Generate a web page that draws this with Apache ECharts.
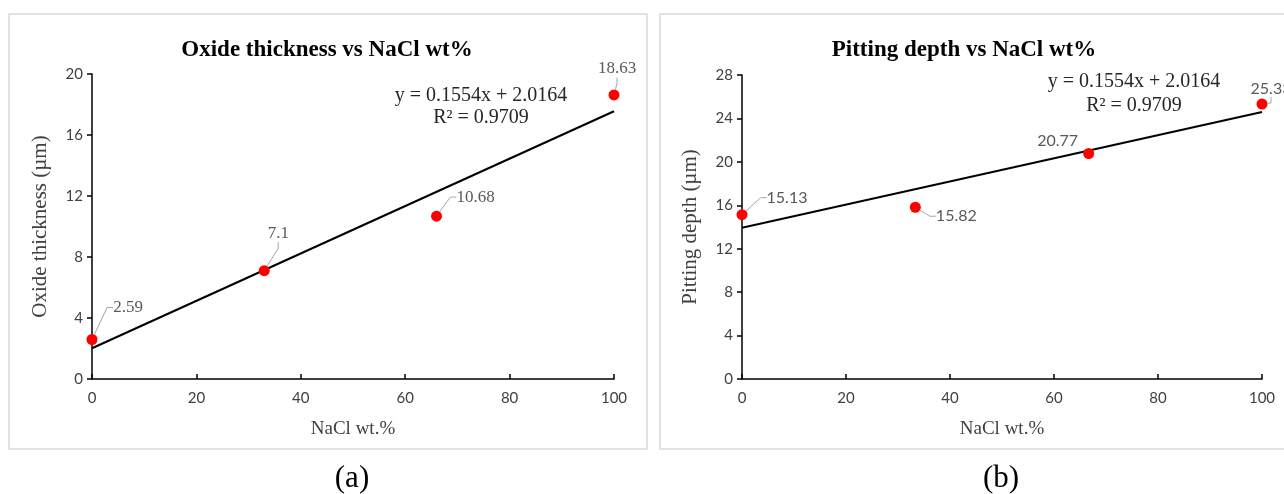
<!DOCTYPE html>
<html>
<head>
<meta charset="utf-8">
<script src="https://cdn.jsdelivr.net/npm/echarts@6/dist/echarts.min.js"></script>
<style>
  html, body { margin: 0; padding: 0; background: #fff; }
  #main { width: 1284px; height: 494px; }
</style>
</head>
<body>
<div id="main"></div>
<script>
// data
var nacl_a = [0, 33, 66, 100];
var oxide = [2.59, 7.1, 10.68, 18.63];
var nacl_b = [0, 33.33, 66.67, 100];
var pitting = [15.13, 15.82, 20.77, 25.33];
// trend line end points (as drawn)
var trendX = [0, 100];
var trendA = [2.0164, 17.5564];
var trendB = [13.93, 24.6];

// label offsets from each point (pixels)
var offA = [[36, -32], [14, -37], [39, -19], [3, -26]];
var offB = [[45, -17], [41, 9], [-31, -13], [9, -15]];

var serif = 'Liberation Serif';
var sans = 'Lato';

function pts(xs, ys) {
  return xs.map(function (x, i) { return [x, ys[i]]; });
}

var myChart = echarts.init(document.getElementById('main'));

function xAx(gi) {
  return {
    gridIndex: gi, type: 'value', min: 0, max: 100, interval: 20,
    name: 'NaCl wt.%', nameLocation: 'middle', nameGap: 41,
    nameTextStyle: { fontFamily: serif, fontSize: 19, color: '#404040' },
    axisLine: { lineStyle: { color: '#000', width: 1.5 } },
    axisTick: { inside: true, length: 5, lineStyle: { color: '#000', width: 1.5 } },
    axisLabel: { fontFamily: sans, fontSize: 15, color: '#404040', margin: 12 },
    splitLine: { show: false }
  };
}
function yAx(gi, name, max) {
  return {
    gridIndex: gi, type: 'value', min: 0, max: max, interval: 4,
    name: name, nameLocation: 'middle', nameGap: 41,
    nameTextStyle: { fontFamily: serif, fontSize: 21, color: '#404040' },
    axisLine: { show: true, lineStyle: { color: '#000', width: 1.5 } },
    axisTick: { show: true, length: 5, lineStyle: { color: '#000', width: 1.5 } },
    axisLabel: { fontFamily: sans, fontSize: 15, color: '#404040', margin: 9 },
    splitLine: { show: false }
  };
}

function scatter(gi, xs, ys, offs, font, size, noLine) {
  return {
    type: 'scatter', xAxisIndex: gi, yAxisIndex: gi,
    symbolSize: 11,
    itemStyle: { color: '#ff0000', opacity: 1 },
    data: xs.map(function (x, i) {
      var d = { value: [x, ys[i]] };
      if (noLine && noLine.indexOf(i) >= 0) d.labelLine = { show: false };
      return d;
    }),
    label: {
      show: true, position: 'inside',
      formatter: function (p) { return p.value[1]; },
      fontFamily: font, fontSize: size, color: '#595959'
    },
    labelLine: { show: true, length2: 6, lineStyle: { color: '#a6a6a6', width: 1 } },
    labelLayout: function (p) {
      return { dx: offs[p.dataIndex][0], dy: offs[p.dataIndex][1] };
    },
    z: 3
  };
}

function trend(gi, ys) {
  return {
    type: 'line', xAxisIndex: gi, yAxisIndex: gi,
    data: pts(trendX, ys), symbol: 'none', silent: true,
    lineStyle: { color: '#000', width: 2 }, z: 2
  };
}

function txt(x, y, s, size, bold, color) {
  return {
    type: 'text', x: x, y: y,
    style: {
      text: s, fill: color || '#000', font: (bold ? 'bold ' : '') + size + 'px "' + serif + '"',
      textAlign: 'center', textVerticalAlign: 'middle'
    }
  };
}

var option = {
  animation: false,
  grid: [
    { left: 92, top: 74, width: 522, height: 305 },
    { left: 742, top: 75, width: 520, height: 304 }
  ],
  xAxis: [xAx(0), xAx(1)],
  yAxis: [yAx(0, 'Oxide thickness (µm)', 20), yAx(1, 'Pitting depth (µm)', 28)],
  series: [
    trend(0, trendA),
    scatter(0, nacl_a, oxide, offA, serif, 17),
    trend(1, trendB),
    scatter(1, nacl_b, pitting, offB, sans, 16, [2])
  ],
  graphic: [
    { type: 'rect', shape: { x: 9, y: 14, width: 638, height: 435 }, style: { fill: 'none', stroke: '#d9d9d9', lineWidth: 1.5 }, z: -1 },
    { type: 'rect', shape: { x: 660, y: 14, width: 640, height: 435 }, style: { fill: 'none', stroke: '#d9d9d9', lineWidth: 1.5 }, z: -1 },
    txt(327, 50, 'Oxide thickness vs NaCl wt%', 23, true),
    txt(964, 50, 'Pitting depth vs NaCl wt%', 23, true),
    txt(481, 96, 'y = 0.1554x + 2.0164', 20, false, '#262626'),
    txt(481, 118, 'R² = 0.9709', 20, false, '#262626'),
    txt(1134, 82, 'y = 0.1554x + 2.0164', 20, false, '#262626'),
    txt(1134, 106, 'R² = 0.9709', 20, false, '#262626'),
    txt(352, 479, '(a)', 31, false),
    txt(1001, 479, '(b)', 31, false)
  ]
};

myChart.setOption(option);
</script>
</body>
</html>
